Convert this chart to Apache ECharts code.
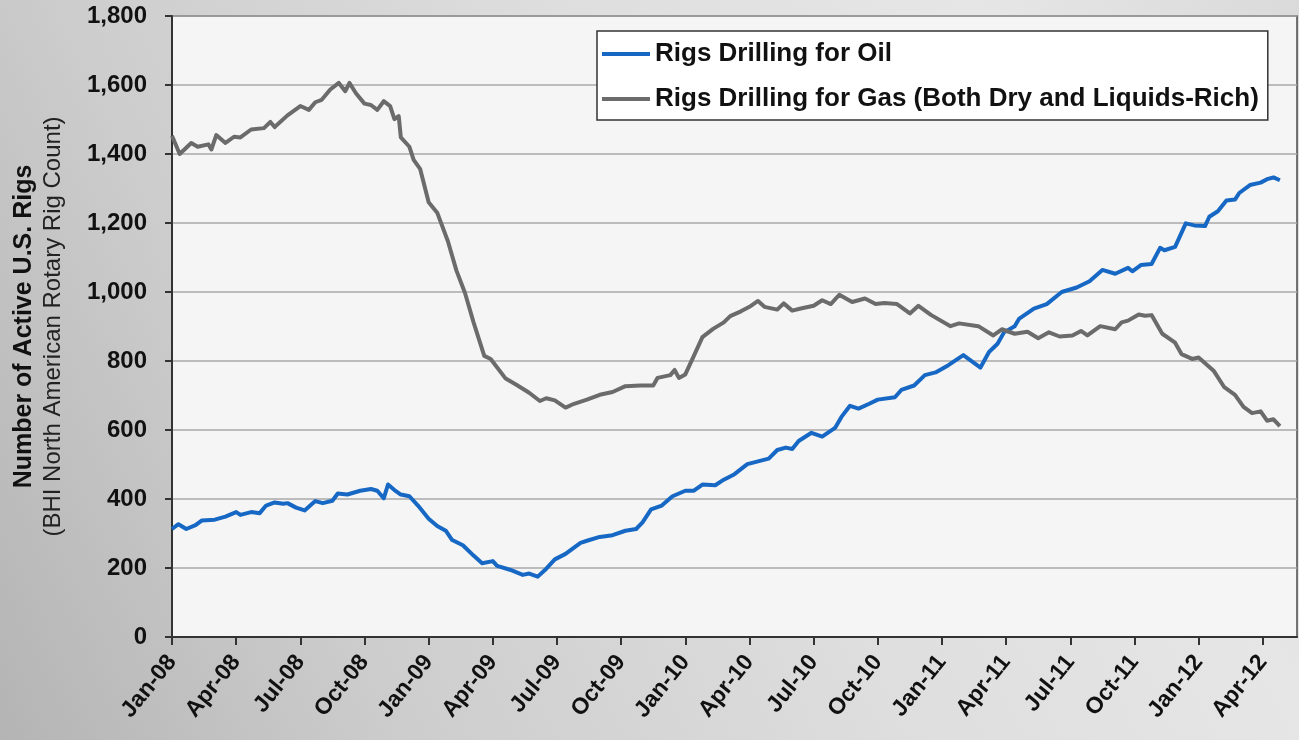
<!DOCTYPE html>
<html>
<head>
<meta charset="utf-8">
<script src="https://cdn.jsdelivr.net/npm/echarts@6/dist/echarts.min.js"></script>
<style>
  html, body { margin: 0; padding: 0; }
  body {
    width: 1299px; height: 740px; overflow: hidden;
    background: linear-gradient(65deg, #b4b4b4 0%, #cdcdcd 25%, #dedede 55%, #e6e6e6 80%, #dadada 100%);
  }
  #chart { width: 1299px; height: 740px; }
</style>
</head>
<body>
<div id="chart"></div>
<script>
// x = months since Jan-2008 (weekly rig counts)
const tickLabels = ['Jan-08', 'Apr-08', 'Jul-08', 'Oct-08', 'Jan-09', 'Apr-09', 'Jul-09', 'Oct-09', 'Jan-10',
  'Apr-10', 'Jul-10', 'Oct-10', 'Jan-11', 'Apr-11', 'Jul-11', 'Oct-11', 'Jan-12', 'Apr-12'];

const oilMonth = [0, 0.3, 0.67, 1.1, 1.4, 2.0, 2.5, 3.0, 3.2, 3.7, 4.1, 4.4, 4.8, 5.2, 5.4, 5.8, 6.2, 6.7, 7.05, 7.5,
  7.75, 8.2, 8.8, 9.3, 9.6, 9.9, 10.1, 10.4, 10.7, 11.1, 11.5, 12.0, 12.4, 12.8, 13.1, 13.6, 14.1, 14.5, 15.0, 15.2,
  15.8, 16.4, 16.7, 17.1, 17.5, 17.9, 18.4, 19.1, 19.4, 20.0, 20.6, 21.2, 21.7, 22.0, 22.4, 22.9, 23.4, 24.0, 24.4, 24.8,
  25.4, 25.8, 26.3, 26.9, 27.4, 27.9, 28.3, 28.7, 29.0, 29.3, 29.9, 30.4, 31.0, 31.3, 31.7, 32.1, 32.6, 33.0, 33.8, 34.1,
  34.7, 35.2, 35.7, 36.3, 37.0, 37.4, 37.8, 38.2, 38.6, 38.9, 39.4, 39.6, 40.3, 40.9, 41.6, 42.3, 42.9, 43.5, 44.1, 44.7,
  44.9, 45.3, 45.8, 46.2, 46.4, 46.9, 47.4, 47.8, 48.3, 48.5, 48.9, 49.3, 49.7, 49.9, 50.4, 50.9, 51.2, 51.5, 51.8];
const oilRigs = [313, 327, 313, 324, 338, 340, 349, 362, 354, 362, 359, 381, 390, 386, 388, 375, 367, 394, 388, 395,
  416, 413, 424, 429, 424, 402, 442, 426, 413, 408, 381, 343, 322, 308, 281, 266, 236, 214, 220, 206,
  195, 180, 184, 175, 198, 225, 241, 273, 279, 290, 295, 308, 313, 332, 370, 381, 408, 424, 424, 442,
  440, 456, 472, 501, 509, 517, 542, 549, 545, 568, 592, 581, 606, 638, 670, 662, 676, 688, 695, 716,
  729, 759, 767, 788, 817, 799, 781, 826, 850, 883, 901, 922, 952, 965, 1000, 1013, 1031, 1064, 1053, 1070,
  1060, 1078, 1081, 1128, 1121, 1131, 1199, 1193, 1191, 1218, 1234, 1265, 1268, 1287, 1310, 1317, 1327, 1332, 1324];

const gasMonth = [0, 0.36, 0.9, 1.2, 1.7, 1.84, 2.07, 2.5, 2.9, 3.2, 3.7, 4.3, 4.6, 4.8, 5.4, 6.0, 6.4, 6.7, 7.0, 7.4,
  7.8, 8.1, 8.3, 8.6, 9.0, 9.3, 9.6, 9.9, 10.2, 10.4, 10.6, 10.7, 11.1, 11.3, 11.6, 12.0, 12.4, 12.9, 13.3, 13.7,
  14.1, 14.6, 14.9, 15.6, 16.1, 16.7, 17.2, 17.5, 17.9, 18.4, 18.8, 19.4, 20.0, 20.6, 21.2, 21.9, 22.5, 22.7, 23.3, 23.5,
  23.7, 24.0, 24.4, 24.8, 25.3, 25.8, 26.1, 26.6, 27.0, 27.4, 27.7, 28.3, 28.6, 29.0, 29.4, 30.0, 30.4, 30.8, 31.2, 31.8,
  32.4, 32.9, 33.3, 33.9, 34.5, 34.9, 35.5, 36.4, 36.8, 37.7, 38.4, 38.8, 39.4, 40.0, 40.5, 41.0, 41.5, 42.1, 42.5, 42.8,
  43.4, 44.1, 44.4, 44.7, 45.2, 45.5, 45.8, 46.3, 46.9, 47.2, 47.7, 48.0, 48.7, 49.2, 49.7, 50.1, 50.5, 50.9, 51.2, 51.5, 51.8];
const gasRigs = [1453, 1400, 1432, 1421, 1428, 1413, 1455, 1432, 1450, 1448, 1471, 1475, 1493, 1478, 1512, 1539, 1528, 1550, 1557, 1587,
  1606, 1582, 1606, 1576, 1546, 1542, 1528, 1553, 1539, 1501, 1510, 1448, 1421, 1383, 1357, 1260, 1230, 1147, 1062, 997,
  912, 815, 806, 749, 731, 708, 684, 692, 686, 665, 676, 688, 702, 710, 727, 729, 729, 751, 759, 774,
  751, 761, 815, 869, 893, 912, 930, 944, 957, 974, 957, 949, 967, 946, 952, 960, 976, 965, 992, 971,
  981, 965, 968, 965, 938, 960, 933, 901, 909, 901, 874, 892, 879, 885, 866, 883, 871, 874, 887, 874,
  901, 892, 912, 917, 935, 931, 933, 879, 853, 820, 806, 810, 772, 724, 702, 667, 649, 654, 627, 631, 611];

const FONT = '"Liberation Sans", Arial, sans-serif';

const chart = echarts.init(document.getElementById('chart'));
chart.setOption({
  backgroundColor: 'transparent',
  animation: false,
  grid: {
    left: 172, right: 2, top: 16, bottom: 103,
    show: true, backgroundColor: '#f5f5f5', borderColor: '#4a4a4a', borderWidth: 1.5
  },
  legend: {
    left: 597, top: 31,
    orient: 'vertical',
    backgroundColor: '#ffffff',
    borderColor: '#333333', borderWidth: 1.5,
    padding: [10, 9, 8, 5],
    itemGap: 19,
    icon: 'path://M0,0H48V4H0Z',
    itemWidth: 48, itemHeight: 4,
    textStyle: { fontFamily: FONT, fontSize: 26, fontWeight: 'bold', color: '#111' },
    data: ['Rigs Drilling for Oil', 'Rigs Drilling for Gas (Both Dry and Liquids-Rich)']
  },
  xAxis: {
    type: 'value', min: 0, max: 52.6, interval: 3,
    axisLine: { lineStyle: { color: '#333', width: 2 } },
    axisTick: { length: 8, lineStyle: { color: '#333', width: 2 } },
    splitLine: { show: false },
    axisLabel: {
      rotate: 51, margin: 21, showMaxLabel: false,
      fontFamily: FONT, fontSize: 23, fontWeight: 'bold', color: '#111',
      formatter: v => (v % 3 === 0 ? tickLabels[v / 3] : '')
    }
  },
  yAxis: {
    type: 'value', min: 0, max: 1800, interval: 200,
    name: '{a|Number of Active U.S. Rigs}\n{b|(BHI North American Rotary Rig Count)}',
    nameLocation: 'middle', nameRotate: 90, nameGap: 104,
    nameTextStyle: {
      rich: {
        a: { fontFamily: FONT, fontSize: 25, fontWeight: 'bold', color: '#111', lineHeight: 29 },
        b: { fontFamily: FONT, fontSize: 24, color: '#222', lineHeight: 29 }
      }
    },
    axisLine: { show: true, lineStyle: { color: '#333', width: 2 } },
    axisTick: { show: true, length: 7, lineStyle: { color: '#333', width: 2 } },
    splitLine: { lineStyle: { color: '#a9a9a9', width: 1.5 } },
    axisLabel: {
      margin: 25, fontFamily: FONT, fontSize: 24, fontWeight: 'bold', color: '#111',
      formatter: v => v.toString().replace(/\B(?=(\d{3})+(?!\d))/g, ',')
    }
  },
  series: [
    {
      name: 'Rigs Drilling for Oil', type: 'line', symbol: 'none',
      lineStyle: { color: '#1668c4', width: 4, join: 'round' },
      itemStyle: { color: '#1668c4' },
      data: oilMonth.map((m, i) => [m, oilRigs[i]])
    },
    {
      name: 'Rigs Drilling for Gas (Both Dry and Liquids-Rich)', type: 'line', symbol: 'none',
      lineStyle: { color: '#6b6b6b', width: 4, join: 'round' },
      itemStyle: { color: '#6b6b6b' },
      data: gasMonth.map((m, i) => [m, gasRigs[i]])
    }
  ]
});
</script>
</body>
</html>
